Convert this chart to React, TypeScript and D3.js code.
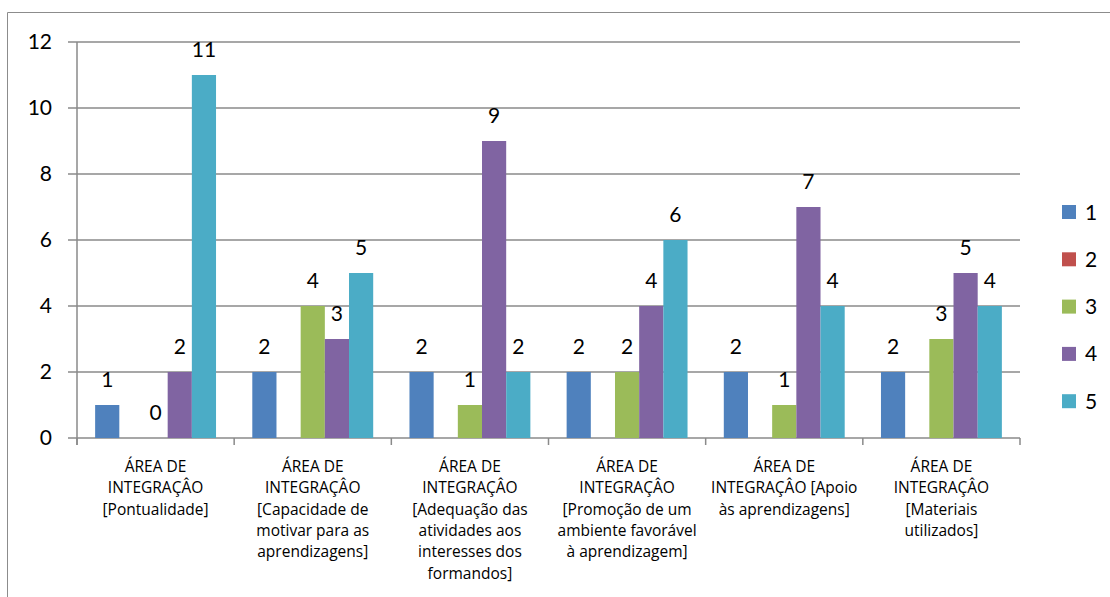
import React from "react";
import * as d3 from "d3";

const categories: string[][] = [
  ["ÁREA DE", "INTEGRAÇÂO", "[Pontualidade]"],
  ["ÁREA DE", "INTEGRAÇÂO", "[Capacidade de", "motivar para as", "aprendizagens]"],
  ["ÁREA DE", "INTEGRAÇÂO", "[Adequação das", "atividades aos", "interesses dos", "formandos]"],
  ["ÁREA DE", "INTEGRAÇÂO", "[Promoção de um", "ambiente favorável", "à aprendizagem]"],
  ["ÁREA DE", "INTEGRAÇÂO [Apoio", "às aprendizagens]"],
  ["ÁREA DE", "INTEGRAÇÂO", "[Materiais", "utilizados]"],
];

const seriesNames = ["1", "2", "3", "4", "5"];
const seriesColors = ["#4F81BD", "#C0504D", "#9BBB59", "#8064A2", "#4BACC6"];

const s1: (number | null)[] = [1, 2, 2, 2, 2, 2];
const s2: (number | null)[] = [null, null, null, null, null, null];
const s3: (number | null)[] = [0, 4, 1, 2, 1, 3];
const s4: (number | null)[] = [2, 3, 9, 4, 7, 5];
const s5: (number | null)[] = [11, 5, 2, 6, 4, 4];
const seriesValues = [s1, s2, s3, s4, s5];

const yTicks = [0, 2, 4, 6, 8, 10, 12];

const W = 1110;
const H = 597;
const plot = { left: 77, right: 1020, top: 42, bottom: 438 };
const FONT = "Lato, 'Open Sans', sans-serif";
const CAT_FONT = "'Open Sans', Lato, sans-serif";

export default function App() {
  const x0 = d3
    .scaleBand<number>()
    .domain(categories.map((_, i) => i))
    .range([plot.left, plot.right])
    .padding(0);
  const x1 = d3
    .scaleBand<number>()
    .domain(seriesNames.map((_, i) => i))
    .range([0, x0.bandwidth()])
    .paddingInner(0)
    .paddingOuter(0.75);
  const y = d3.scaleLinear().domain([0, 12]).range([plot.bottom, plot.top]);

  const gridColor = "#8a8a8a";
  const boundaries = categories.map((_, i) => x0(i)!).concat([plot.right]);

  return (
    <svg
      width={W}
      height={H}
      style={{ position: "absolute", left: 0, top: 0, background: "#fff" }}
      fontFamily={FONT}
    >
      <rect x={0} y={0} width={W} height={H} fill="#fff" />
      {/* outer frame */}
      <line x1={7.5} y1={12.5} x2={W} y2={12.5} stroke="#8c8c8c" strokeWidth={1} />
      <line x1={7.5} y1={12.5} x2={7.5} y2={H} stroke="#8c8c8c" strokeWidth={1} />

      {/* gridlines and y ticks */}
      {yTicks.map((t) => (
        <g key={t}>
          <line
            x1={plot.left - 9}
            x2={plot.right}
            y1={y(t)}
            y2={y(t)}
            stroke={gridColor}
            strokeWidth={1.5}
          />
          <text x={52} y={y(t) + 7} textAnchor="end" fontSize={21} fill="#000">
            {t}
          </text>
        </g>
      ))}
      {/* y axis */}
      <line x1={plot.left} x2={plot.left} y1={plot.top} y2={plot.bottom + 7} stroke={gridColor} strokeWidth={1.5} />
      {/* x ticks */}
      {boundaries.map((b, i) => (
        <line key={i} x1={b} x2={b} y1={plot.bottom} y2={plot.bottom + 7} stroke={gridColor} strokeWidth={1.5} />
      ))}

      {/* bars */}
      {seriesValues.map((vals, si) =>
        vals.map((v, ci) => {
          if (v === null || v <= 0) return null;
          const bx = x0(ci)! + x1(si)!;
          const bw = x1.bandwidth();
          return (
            <rect key={`${si}-${ci}`} x={bx} y={y(v)} width={bw} height={y(0) - y(v)} fill={seriesColors[si]} />
          );
        })
      )}
      {/* value labels */}
      {seriesValues.map((vals, si) =>
        vals.map((v, ci) => {
          if (v === null) return null;
          const bx = x0(ci)! + x1(si)! + x1.bandwidth() / 2;
          return (
            <text key={`l${si}-${ci}`} x={bx} y={y(v) - 18} textAnchor="middle" fontSize={21} fill="#000">
              {v}
            </text>
          );
        })
      )}

      {/* category labels */}
      {categories.map((lines, ci) => (
        <text key={ci} textAnchor="middle" fontSize={15.5} fill="#000" fontFamily={CAT_FONT}>
          {lines.map((ln, li) => (
            <tspan key={li} x={x0(ci)! + x0.bandwidth() / 2} y={472 + li * 21.3}>
              {ln}
            </tspan>
          ))}
        </text>
      ))}

      {/* legend */}
      {seriesNames.map((n, i) => {
        const cy = 212 + i * 47.3;
        return (
          <g key={n}>
            <rect x={1062} y={cy - 7} width={14} height={14} fill={seriesColors[i]} />
            <text x={1085} y={cy + 7.5} fontSize={21} fill="#000">
              {n}
            </text>
          </g>
        );
      })}
    </svg>
  );
}
